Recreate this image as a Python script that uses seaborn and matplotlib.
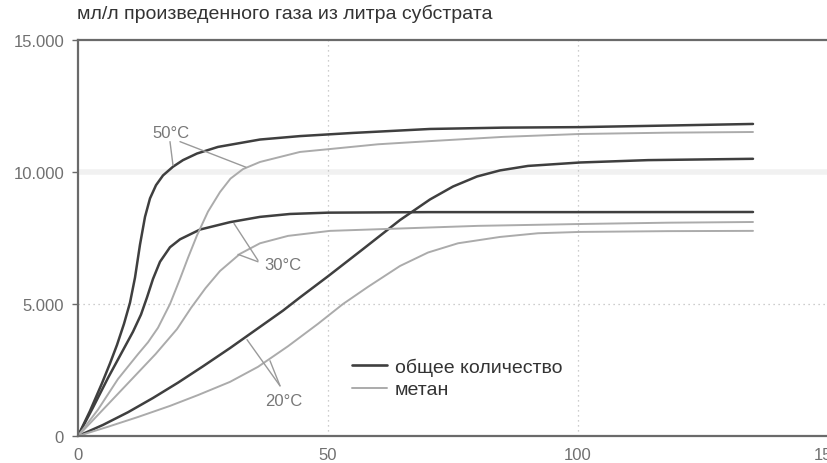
import matplotlib
matplotlib.use("Agg")
import matplotlib.pyplot as plt
from matplotlib.lines import Line2D
import pandas as pd
import seaborn as sns

# Days of digestion (x) and cumulative gas yield, ml per litre of substrate (y)
total_50_x = [0, 2.4, 4.8, 6.4, 7.8, 9.2, 10.4, 11.4, 12.4, 13.4, 14.4, 15.6, 17, 19, 21, 23.8,
              28, 36.4, 44.4, 55, 70.4, 85, 100.4, 118, 135]
total_50_y = [0, 950, 2000, 2750, 3450, 4250, 5050, 6000, 7250, 8300, 9000, 9500, 9870, 10200,
              10450, 10700, 10950, 11230, 11360, 11480, 11630, 11680, 11700, 11760, 11820]

methane_50_x = [0, 4, 8, 12, 14, 16, 18.4, 20.4, 22, 23.8, 26, 28.4, 30.5, 33, 36.4, 44.4, 50.4,
                60, 70.4, 85, 100.4, 118, 135]
methane_50_y = [0, 1000, 2160, 3100, 3550, 4100, 5000, 5950, 6750, 7600, 8500, 9240, 9750, 10110,
                10380, 10760, 10870, 11050, 11170, 11330, 11440, 11490, 11515]

total_30_x = [0, 3, 6, 9, 11, 12.6, 13.8, 15, 16.4, 18.4, 20.4, 24.4, 30.4, 36.4, 42.4, 50, 70,
              100, 135]
total_30_y = [0, 1080, 2200, 3250, 3950, 4600, 5250, 5950, 6600, 7150, 7450, 7820, 8100, 8300,
              8410, 8460, 8480, 8480, 8485]

methane_30_x = [0, 5, 10.8, 15.5, 19.8, 22.6, 25.5, 28.4, 32.4, 36.4, 42, 50.4, 64.4, 80, 100.4,
                118, 135]
methane_30_y = [0, 1000, 2160, 3100, 4050, 4850, 5600, 6250, 6900, 7300, 7580, 7770, 7860, 7960,
                8030, 8080, 8106]

total_20_x = [0, 5, 10, 15, 20, 25, 30.4, 36, 41, 44.4, 50, 57, 64.4, 70.4, 75, 79.8, 84.4, 90,
              100.4, 114, 135]
total_20_y = [0, 420, 900, 1440, 2020, 2640, 3330, 4080, 4750, 5250, 6050, 7080, 8180, 8960, 9450,
              9830, 10060, 10230, 10360, 10450, 10500]

methane_20_x = [0, 6, 12, 18.4, 24, 30.4, 36, 42, 48, 53, 58, 64.4, 70, 76, 84.4, 92, 100.4, 118,
                135]
methane_20_y = [0, 350, 720, 1140, 1550, 2050, 2620, 3400, 4250, 5000, 5650, 6440, 6950, 7300,
                7540, 7680, 7730, 7760, 7770]

kind_labels = ["общее количество", "метан"]
temperatures = ["50°C", "30°C", "20°C"]
y_ticks = [0, 5000, 10000, 15000]
y_tick_labels = ["0", "5.000", "10.000", "15.000"]
x_ticks = [0, 50, 100, 150]
x_tick_labels = ["0", "50", "100", "150"]
title = "мл/л произведенного газа из литра субстрата"

series = [
    (temperatures[0], kind_labels[0], total_50_x, total_50_y),
    (temperatures[0], kind_labels[1], methane_50_x, methane_50_y),
    (temperatures[1], kind_labels[0], total_30_x, total_30_y),
    (temperatures[1], kind_labels[1], methane_30_x, methane_30_y),
    (temperatures[2], kind_labels[0], total_20_x, total_20_y),
    (temperatures[2], kind_labels[1], methane_20_x, methane_20_y),
]
frames = []
for temp, kind, xs, ys in series:
    frames.append(pd.DataFrame({"x": xs, "y": ys, "kind": kind,
                                "curve": f"{temp} {kind}"}))
df = pd.concat(frames, ignore_index=True)

sns.set_theme(style="white")
plt.rcParams["font.family"] = ["Liberation Sans", "DejaVu Sans"]

DARK = "#3f3f3f"
LIGHT = "#ababab"
AXIS = "#6a6a6a"

fig = plt.figure(figsize=(8.27, 4.64), dpi=100)
ax = fig.add_axes([78 / 827, 27 / 464, 750 / 827, 396 / 464])

# Light dotted reference lines
ax.axhline(5000, color="#bdbdbd", lw=0.9, ls=(0, (1, 3)), zorder=0)
ax.axhline(10000, color="#f1f1f1", lw=4, zorder=0)
for xv in (50, 100):
    ax.axvline(xv, color="#bdbdbd", lw=0.9, ls=(0, (1, 3)), zorder=0)

sns.lineplot(data=df, x="x", y="y", hue="kind", size="kind", units="curve",
             estimator=None, sort=False, ax=ax, legend=False,
             palette={kind_labels[0]: DARK, kind_labels[1]: LIGHT},
             sizes={kind_labels[0]: 1.8, kind_labels[1]: 1.4})

ax.set_xlim(0, 150)
ax.set_ylim(0, 15000)
ax.set_xticks(x_ticks)
ax.set_xticklabels(x_tick_labels)
ax.set_yticks(y_ticks)
ax.set_yticklabels(y_tick_labels)
ax.set_xlabel("")
ax.set_ylabel("")
for lab in ax.get_xticklabels() + ax.get_yticklabels():
    lab.set_fontsize(12)
    lab.set_color("#707070")
ax.tick_params(axis="y", length=4, width=1, color=AXIS, pad=6, left=True)
ax.tick_params(axis="x", length=0, pad=8)

for side in ("left", "bottom", "top"):
    ax.spines[side].set_color(AXIS)
    ax.spines[side].set_linewidth(1.6)
ax.spines["right"].set_visible(False)

# Temperature labels with leader lines
lab_kw = dict(fontsize=12, color="#777777", ha="center", va="center")
lead_kw = dict(color="#9a9a9a", lw=1.0)
ax.text(18.6, 11515, temperatures[0], **lab_kw)
ax.plot([18.4, 19.0], [11150, 10250], **lead_kw)
ax.plot([20.4, 33.6], [11150, 10180], **lead_kw)

ax.text(41.0, 6500, temperatures[1], **lab_kw)
ax.plot([36.0, 31.2], [6650, 8050], **lead_kw)
ax.plot([36.0, 32.0], [6600, 6880], **lead_kw)

ax.text(41.2, 1360, temperatures[2], **lab_kw)
ax.plot([40.4, 33.8], [1900, 3650], **lead_kw)
ax.plot([40.4, 38.4], [1900, 2850], **lead_kw)

handles = [Line2D([], [], color=DARK, lw=1.9), Line2D([], [], color=LIGHT, lw=1.4)]
leg = ax.legend(handles, kind_labels, loc="center left",
                bbox_to_anchor=((352 - 78) / 750, (437 - 379) / 396),
                frameon=False, fontsize=14, handlelength=1.8, handletextpad=0.4,
                labelspacing=0.25, borderpad=0, borderaxespad=0)
for t in leg.get_texts():
    t.set_color("#333333")

fig.text(77 / 827, 1 - 14 / 464, title, fontsize=14, color="#333333",
         ha="left", va="center")

fig.savefig("out.png", dpi=100, facecolor="white")
